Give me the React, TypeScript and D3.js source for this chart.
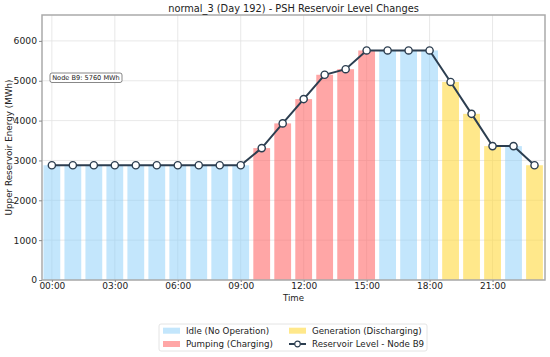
import { useEffect, useRef } from 'react';
import * as d3 from 'd3';

const hourLabels = ['00:00', '03:00', '06:00', '09:00', '12:00', '15:00', '18:00', '21:00'];
const hourTicks = [0, 3, 6, 9, 12, 15, 18, 21];

const modes = [
  'idle', 'idle', 'idle', 'idle', 'idle', 'idle', 'idle', 'idle', 'idle', 'idle',
  'pump', 'pump', 'pump', 'pump', 'pump', 'pump',
  'idle', 'idle', 'idle',
  'gen', 'gen', 'gen',
  'idle', 'gen',
];

const levels = [
  2880, 2880, 2880, 2880, 2880, 2880, 2880, 2880, 2880, 2880,
  3310, 3930, 4540, 5150, 5290, 5760,
  5760, 5760, 5760,
  4970, 4170, 3360,
  3360, 2880,
];

const yTicks = [0, 1000, 2000, 3000, 4000, 5000, 6000];

const modeColor: Record<string, string> = {
  idle: '#87CEFA',
  pump: '#FF6B6B',
  gen: '#FFD93D',
};
const modeOpacity: Record<string, number> = { idle: 0.5, pump: 0.6, gen: 0.6 };

const legendItems = [
  { label: 'Idle (No Operation)', kind: 'idle' },
  { label: 'Pumping (Charging)', kind: 'pump' },
  { label: 'Generation (Discharging)', kind: 'gen' },
  { label: 'Reservoir Level - Node B9', kind: 'line' },
];

const lineColor = '#2C3E50';
const font = 'DejaVu Sans, Verdana, sans-serif';

export default function App() {
  const ref = useRef<SVGSVGElement | null>(null);

  useEffect(() => {
    if (!ref.current) return;
    const svg = d3.select(ref.current);
    svg.selectAll('*').remove();

    const width = 550;
    const height = 357;
    const margin = { top: 15, right: 5, bottom: 77, left: 42 };
    const innerWidth = width - margin.left - margin.right;
    const innerHeight = height - margin.top - margin.bottom;

    const x = d3.scaleLinear().domain([-0.47, 23.5]).range([0, innerWidth]);
    const y = d3.scaleLinear().domain([0, 6650]).range([innerHeight, 0]);

    svg.attr('width', width).attr('height', height).style('font-family', font);

    const g = svg.append('g').attr('transform', `translate(${margin.left},${margin.top})`);

    // grid
    g.selectAll('.gx')
      .data(hourTicks)
      .enter()
      .append('line')
      .attr('x1', d => x(d))
      .attr('x2', d => x(d))
      .attr('y1', 0)
      .attr('y2', innerHeight)
      .attr('stroke', '#e2e2e2')
      .attr('stroke-width', 0.8);

    g.selectAll('.gy')
      .data(yTicks)
      .enter()
      .append('line')
      .attr('x1', 0)
      .attr('x2', innerWidth)
      .attr('y1', d => y(d))
      .attr('y2', d => y(d))
      .attr('stroke', '#e2e2e2')
      .attr('stroke-width', 0.8);

    // bars
    const bw = x(0.8) - x(0);
    g.selectAll('.bar')
      .data(levels)
      .enter()
      .append('rect')
      .attr('x', (_, i) => x(i) - bw / 2)
      .attr('y', d => y(d))
      .attr('width', bw)
      .attr('height', d => innerHeight - y(d))
      .attr('fill', (_, i) => modeColor[modes[i]])
      .attr('fill-opacity', (_, i) => modeOpacity[modes[i]]);

    // line
    const line = d3.line<number>().x((_, i) => x(i)).y(d => y(d));
    g.append('path')
      .datum(levels)
      .attr('d', line)
      .attr('fill', 'none')
      .attr('stroke', lineColor)
      .attr('stroke-width', 2);

    g.selectAll('.pt')
      .data(levels)
      .enter()
      .append('circle')
      .attr('cx', (_, i) => x(i))
      .attr('cy', d => y(d))
      .attr('r', 3.6)
      .attr('fill', 'white')
      .attr('stroke', lineColor)
      .attr('stroke-width', 1.4);

    // frame
    g.append('rect')
      .attr('width', innerWidth)
      .attr('height', innerHeight)
      .attr('fill', 'none')
      .attr('stroke', '#aaa')
      .attr('stroke-width', 1.5);

    // axes
    const xAxis = g.append('g')
      .attr('transform', `translate(0,${innerHeight})`)
      .call(
        d3.axisBottom(x)
          .tickValues(hourTicks)
          .tickSize(2)
          .tickFormat((_, i) => hourLabels[i])
      );
    xAxis.select('.domain').remove();
    xAxis.selectAll('line').attr('stroke', '#888');
    xAxis.selectAll('text')
      .attr('y', 2.2)
      .attr('font-size', 9)
      .attr('fill', '#222')
      .attr('font-family', font);

    const yAxis = g.append('g').call(d3.axisLeft(y).tickValues(yTicks).tickSize(3).tickPadding(2).tickFormat(d3.format('d')));
    yAxis.select('.domain').remove();
    yAxis.selectAll('line').attr('stroke', '#888');
    yAxis.selectAll('text').attr('font-size', 9.2).attr('fill', '#222').attr('font-family', font);

    // labels
    svg.append('text')
      .attr('x', margin.left + innerWidth / 2)
      .attr('y', 12)
      .attr('text-anchor', 'middle')
      .attr('font-size', 9.8)
      .attr('fill', '#222')
      .text('normal_3 (Day 192) - PSH Reservoir Level Changes');

    svg.append('text')
      .attr('x', margin.left + innerWidth / 2)
      .attr('y', 300.5)
      .attr('text-anchor', 'middle')
      .attr('font-size', 8.6)
      .attr('fill', '#222')
      .text('Time');

    svg.append('text')
      .attr('transform', `translate(12,${margin.top + innerHeight / 2}) rotate(-90)`)
      .attr('text-anchor', 'middle')
      .attr('font-size', 8.8)
      .attr('fill', '#222')
      .text('Upper Reservoir Energy (MWh)');

    // annotation
    const ann = svg.append('g').attr('transform', 'translate(50,73)');
    ann.append('rect')
      .attr('width', 72)
      .attr('height', 9.5)
      .attr('rx', 2)
      .attr('fill', 'white')
      .attr('stroke', '#555')
      .attr('stroke-width', 0.7);
    ann.append('text')
      .attr('x', 36)
      .attr('y', 7.2)
      .attr('text-anchor', 'middle')
      .attr('font-size', 6.6)
      .attr('fill', '#222')
      .text('Node B9: 5760 MWh');

    // legend
    const lg = svg.append('g').attr('transform', 'translate(159,324)');
    lg.append('rect')
      .attr('width', 268)
      .attr('height', 27)
      .attr('rx', 2)
      .attr('fill', 'white')
      .attr('stroke', '#ddd')
      .attr('stroke-width', 0.8);

    legendItems.forEach((item, i) => {
      const col = Math.floor(i / 2);
      const row = i % 2;
      const ix = col === 0 ? 4 : 130;
      const iy = row === 0 ? 6.7 : 20;
      const it = lg.append('g').attr('transform', `translate(${ix},${iy})`);
      if (item.kind === 'line') {
        it.append('line')
          .attr('x1', 0)
          .attr('x2', 17)
          .attr('y1', 0)
          .attr('y2', 0)
          .attr('stroke', lineColor)
          .attr('stroke-width', 2);
        it.append('circle')
          .attr('cx', 8.5)
          .attr('cy', 0)
          .attr('r', 2.8)
          .attr('fill', 'white')
          .attr('stroke', lineColor)
          .attr('stroke-width', 1.2);
      } else {
        it.append('rect')
          .attr('x', 0)
          .attr('y', -3)
          .attr('width', 17)
          .attr('height', 6)
          .attr('fill', modeColor[item.kind])
          .attr('fill-opacity', modeOpacity[item.kind]);
      }
      it.append('text')
        .attr('x', 23)
        .attr('y', 3)
        .attr('font-size', 8.7)
        .attr('fill', '#222')
        .text(item.label);
    });
  }, []);

  return (
    <div style={{ position: 'absolute', left: 0, top: 0 }}>
      <svg ref={ref} style={{ display: 'block' }}></svg>
    </div>
  );
}
